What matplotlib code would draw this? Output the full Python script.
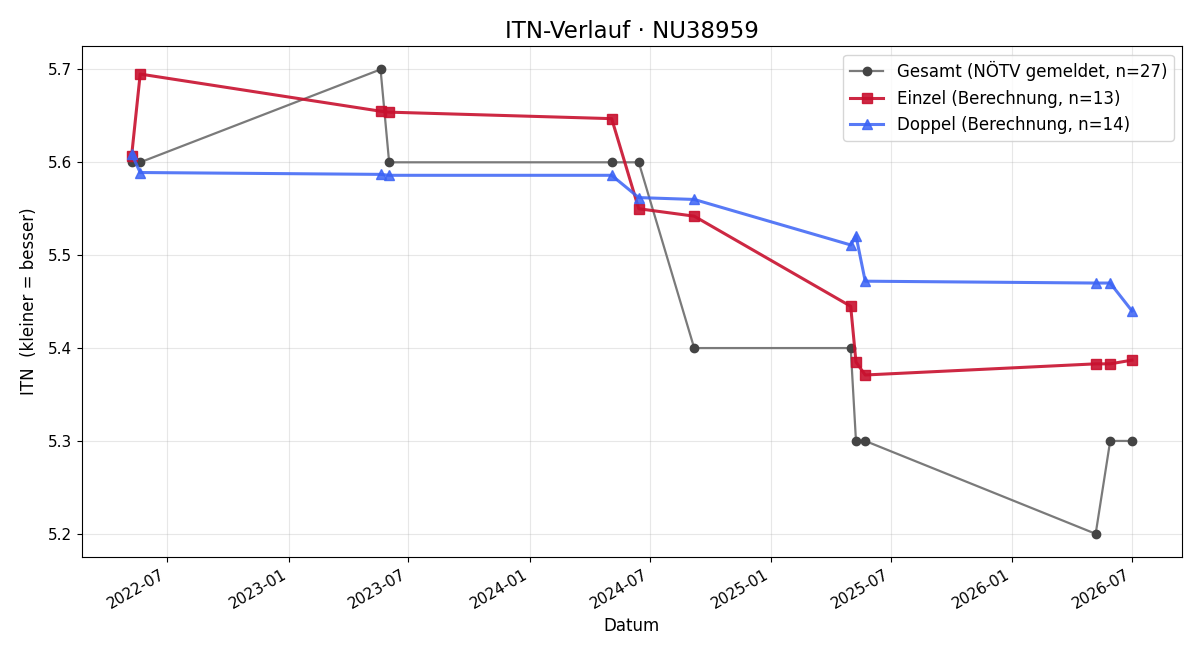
import matplotlib
matplotlib.use("Agg")
import matplotlib.pyplot as plt
import matplotlib.dates as mdates
import pandas as pd

# dates of the rating points
dates = pd.to_datetime([
    "2022-05-08", "2022-05-21", "2023-05-20", "2023-06-02", "2024-05-04",
    "2024-06-14", "2024-09-06", "2025-05-01", "2025-05-09", "2025-05-23",
    "2026-05-07", "2026-05-29", "2026-07-01",
])

# ITN values per series
gesamt = [5.6, 5.6, 5.7, 5.6, 5.6, 5.6, 5.4, 5.4, 5.3, 5.3, 5.2, 5.3, 5.3]
einzel = [5.607, 5.695, 5.655, 5.654, 5.647, 5.550, 5.542, 5.445, 5.385,
          5.371, 5.383, 5.383, 5.387]
doppel = [5.609, 5.589, 5.587, 5.586, 5.586, 5.562, 5.560, 5.511, 5.521,
          5.472, 5.470, 5.470, 5.440]

labels = ["Gesamt (NÖTV gemeldet, n=27)",
          "Einzel (Berechnung, n=13)",
          "Doppel (Berechnung, n=14)"]

fig, ax = plt.subplots(figsize=(12, 6.6), dpi=100)

ax.plot(dates, gesamt, marker="o", color="#7a7a7a", mfc="#444444",
        mec="#444444", lw=1.6, ms=6, label=labels[0])
ax.plot(dates, einzel, marker="s", color="#c8102e", alpha=0.9, lw=2.2,
        ms=7, label=labels[1])
ax.plot(dates, doppel, marker="^", color="#3b63f5", alpha=0.85, lw=2.2,
        ms=7, label=labels[2])

ax.set_title("ITN-Verlauf · NU38959", fontsize=16.5)
ax.set_xlabel("Datum", fontsize=12)
ax.set_ylabel("ITN  (kleiner = besser)", fontsize=12, labelpad=7)
ax.tick_params(labelsize=11)
ax.grid(True, alpha=0.3)
ax.legend(loc="upper right", fontsize=12)

ax.xaxis.set_major_locator(mdates.MonthLocator(bymonth=[1, 7]))
ax.xaxis.set_major_formatter(mdates.DateFormatter("%Y-%m"))
fig.autofmt_xdate()

fig.subplots_adjust(left=0.068, right=0.985, top=0.93, bottom=0.156)
fig.savefig("out.png", dpi=100)
